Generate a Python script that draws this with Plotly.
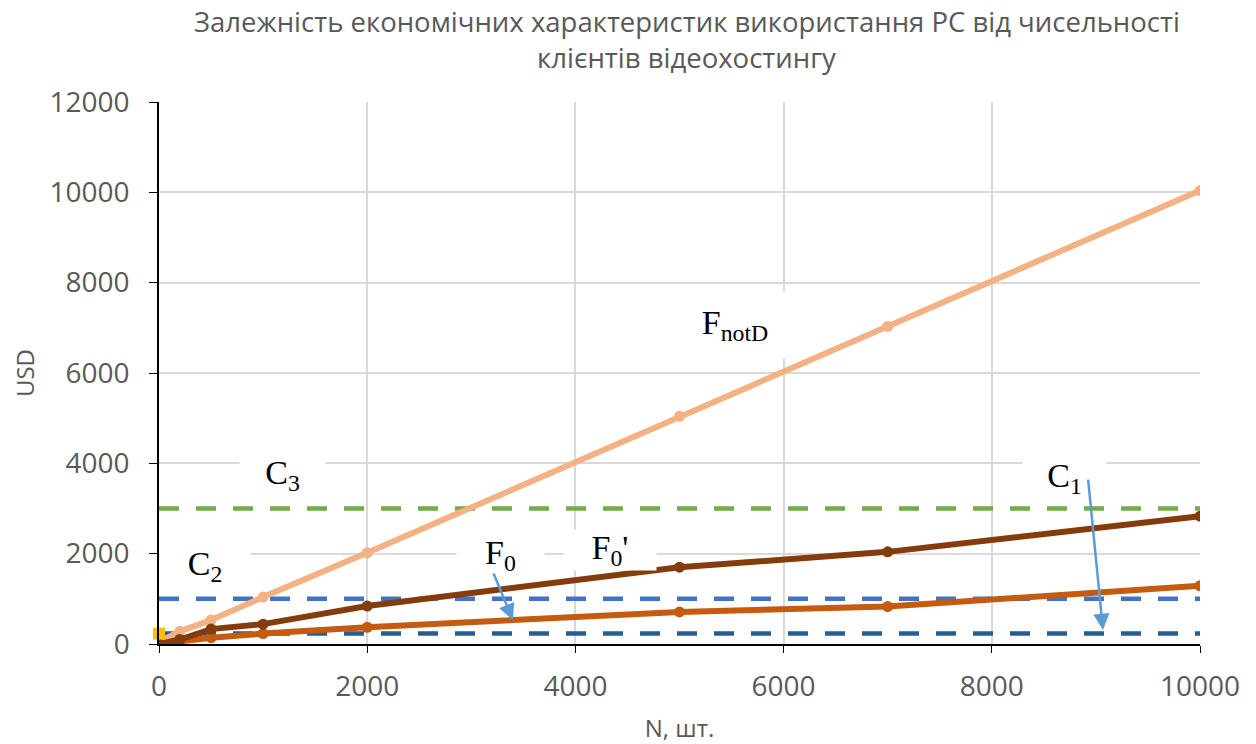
import plotly.graph_objects as go

# ---- data ----
N = [0, 200, 500, 1000, 2000, 5000, 7000, 10000]
F_notD = [40, 280, 530, 1040, 2020, 5040, 7030, 10040]
F0_prime = [0, 100, 330, 440, 840, 1700, 2040, 2830]
F0 = [0, 60, 140, 230, 370, 710, 830, 1290]
C1 = 230
C2 = 1000
C3 = 3000
x_ticks = [0, 2000, 4000, 6000, 8000, 10000]
y_ticks = [0, 2000, 4000, 6000, 8000, 10000, 12000]

title_lines = ["Залежність економічних характеристик використання РС від чисельності",
               "клієнтів відеохостингу"]

fig = go.Figure()

xr = [N[0], N[-1]]
dash = "20px,17px"
fig.add_trace(go.Scatter(x=xr, y=[C3, C3], mode="lines",
                         line=dict(color="#70AD47", width=4.5, dash=dash), name="C3"))
fig.add_trace(go.Scatter(x=xr, y=[C2, C2], mode="lines",
                         line=dict(color="#4472C4", width=4.5, dash=dash), name="C2"))
fig.add_trace(go.Scatter(x=xr, y=[C1, C1], mode="lines",
                         line=dict(color="#255E91", width=4.5, dash=dash), name="C1"))
fig.add_trace(go.Scatter(x=N, y=F_notD, mode="lines+markers",
                         line=dict(color="#F4B183", width=6),
                         marker=dict(size=11, color="#F4B183"), name="FnotD"))
fig.add_trace(go.Scatter(x=N, y=F0, mode="lines+markers",
                         line=dict(color="#C55A11", width=6),
                         marker=dict(size=11, color="#C55A11"), name="F0"))
fig.add_trace(go.Scatter(x=N, y=F0_prime, mode="lines+markers",
                         line=dict(color="#843C0C", width=6),
                         marker=dict(size=11, color="#843C0C"), name="F0'"))
fig.add_trace(go.Scatter(x=[0], y=[C1], mode="markers",
                         marker=dict(size=12, color="#FFC000", symbol="square"),
                         name="start", cliponaxis=False))

serif = dict(family="Liberation Serif, Times New Roman, serif", size=34, color="black")
labels = [
    ("C<sub>3</sub>", 1182, 3742, 85, 40),
    ("C<sub>2</sub>", 442, 1727, 90, 40),
    ("F<sub>0</sub>", 3276, 1970, 87, 40),
    ("F<sub>0</sub>'", 4333, 2081, 92, 40),
    ("C<sub>1</sub>", 8703, 3675, 83, 40),
    ("F<sub>notD</sub>", 5533, 7063, 110, 66),
]
for txt, x, y, w, h in labels:
    fig.add_annotation(x=x, y=y, xref="x", yref="y", text=txt, showarrow=False,
                       font=serif, bgcolor="white", width=w, height=h, borderpad=0)

# arrows
for (x0, y0, x1, y1) in [(3208, 1594, 3400, 531), (8924, 3675, 9068, 310)]:
    fig.add_annotation(x=x1, y=y1, ax=x0, ay=y0, xref="x", yref="y", axref="x", ayref="y",
                       text="", showarrow=True, arrowhead=2, arrowsize=1.3,
                       arrowwidth=2.5, arrowcolor="#5B9BD5")

gray = "#595959"
sans = "Open Sans, sans-serif"
# title as two centred lines
for txt, yp in zip(title_lines, [1.148, 1.083]):
    fig.add_annotation(text=txt, xref="paper", yref="paper", x=0.507, y=yp,
                       xanchor="center", yanchor="middle", showarrow=False, borderpad=0,
                       font=dict(family=sans, size=27.5, color=gray))

fig.update_layout(
    width=1248, height=736,
    margin=dict(l=151, r=56, t=94, b=100, autoexpand=False),
    paper_bgcolor="white", plot_bgcolor="white",
    showlegend=False,
    xaxis=dict(range=[0, 10000], tickvals=x_ticks, ticktext=[str(v) for v in x_ticks],
               ticks="outside", ticklen=7, automargin=False, ticklabelstandoff=10,
               tickcolor="black", showline=True, linecolor="black", linewidth=1.5,
               showgrid=True, gridcolor="#D9D9D9", gridwidth=1.5, zeroline=False,
               tickfont=dict(family=sans, size=28, color=gray),
               title=dict(text="N, шт.", font=dict(family=sans, size=24, color=gray),
                          standoff=18)),
    yaxis=dict(range=[0, 12000], tickvals=y_ticks, ticktext=[str(v) for v in y_ticks],
               ticks="outside", ticklen=8, automargin=False, ticklabelstandoff=14,
               tickcolor="black", showline=True, linecolor="black", linewidth=1.5,
               showgrid=True, gridcolor="#D9D9D9", gridwidth=1.5, zeroline=False,
               tickfont=dict(family=sans, size=28, color=gray),
               title=dict(text="USD", font=dict(family=sans, size=24, color=gray),
                          standoff=12)),
)

fig.write_html("out.html")
